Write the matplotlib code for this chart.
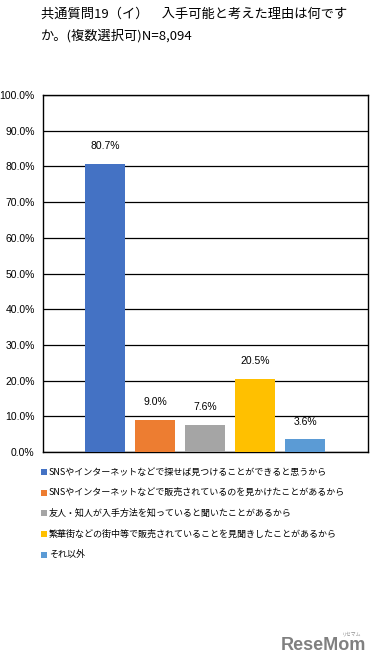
import matplotlib
matplotlib.use("Agg")
import matplotlib.pyplot as plt
from matplotlib.patches import Rectangle

plt.rcParams['font.family'] = ['Noto Sans CJK JP', 'DejaVu Sans']

title = "共通質問19（イ）　入手可能と考えた理由は何です\nか。(複数選択可)N=8,094"
categories = [
    "SNSやインターネットなどで探せば見つけることができると思うから",
    "SNSやインターネットなどで販売されているのを見かけたことがあるから",
    "友人・知人が入手方法を知っていると聞いたことがあるから",
    "繁華街などの街中等で販売されていることを見聞きしたことがあるから",
    "それ以外",
]
values = [80.7, 9.0, 7.6, 20.5, 3.6]
colors = ["#4472C4", "#ED7D31", "#A5A5A5", "#FFC000", "#5B9BD5"]
yticks = [0, 10, 20, 30, 40, 50, 60, 70, 80, 90, 100]

W, H = 379, 668
fig = plt.figure(figsize=(W / 100, H / 100), dpi=100)
fig.patch.set_facecolor("white")

ax = fig.add_axes([43 / W, 1 - 452 / H, (368 - 43) / W, (452 - 95) / H])
x = list(range(len(values)))
ax.bar(x, values, width=0.8, color=colors, zorder=3)
ax.set_xlim(-1.24, 5.26)
ax.set_ylim(0, 100)
ax.set_yticks(yticks)
ax.set_yticklabels([f"{t:.1f}%" for t in yticks], family="Liberation Sans", fontsize=7.5)
ax.set_xticks([])
ax.tick_params(axis="y", length=0, pad=6)
ax.grid(axis="y", color="black", linewidth=0.9, zorder=0)
for s in ax.spines.values():
    s.set_color("black")
    s.set_linewidth(1.0)
for xi, v in zip(x, values):
    ax.annotate(f"{v:.1f}%", (xi, v), xytext=(0, 9), textcoords="offset points",
                ha="center", va="bottom", fontsize=7.5, family="Liberation Sans")

fig.text(41 / W, 1 - 8 / H, title, ha="left", va="top", fontsize=9.5,
         linespacing=1.75)

y0 = 472
dy = 20.7
for i, (c, col) in enumerate(zip(categories, colors)):
    yc = y0 + i * dy
    fig.patches.append(Rectangle((41 / W, 1 - (yc + 3) / H), 6 / W, 6 / H,
                                 transform=fig.transFigure, facecolor=col,
                                 edgecolor="none"))
    fig.text(49 / W, 1 - yc / H, c, ha="left", va="center", fontsize=6.5)

fig.text(366 / W, 1 - 646 / H, "ReseMom", ha="right", va="center",
         fontsize=13, color="#808080", fontweight="bold", family="Liberation Sans")
fig.text(361 / W, 1 - 634 / H, "リセマム", ha="right", va="center",
         fontsize=3.5, color="#909090")

fig.savefig("out.png", dpi=100, facecolor="white")
